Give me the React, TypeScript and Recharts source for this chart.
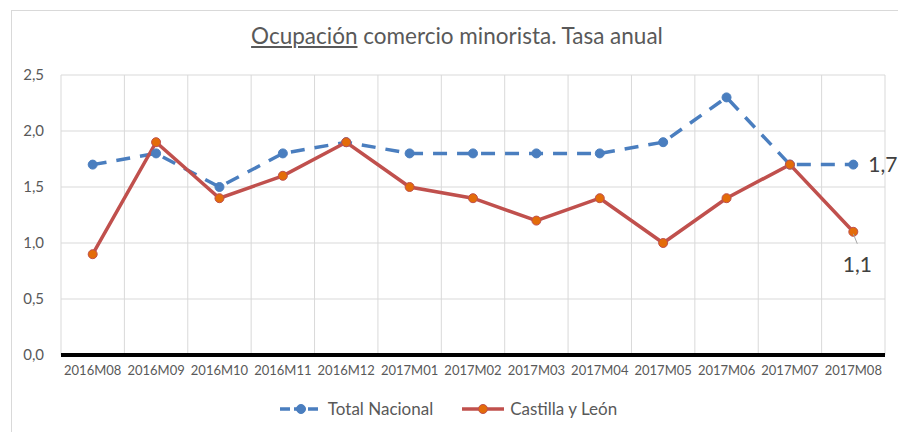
import React from 'react';
import { LineChart, Line, XAxis, YAxis, CartesianGrid, Legend, LabelList } from 'recharts';

const months = [
  '2016M08', '2016M09', '2016M10', '2016M11', '2016M12', '2017M01', '2017M02',
  '2017M03', '2017M04', '2017M05', '2017M06', '2017M07', '2017M08',
];
const totalNacional = [1.7, 1.8, 1.5, 1.8, 1.9, 1.8, 1.8, 1.8, 1.8, 1.9, 2.3, 1.7, 1.7];
const castillaLeon = [0.9, 1.9, 1.4, 1.6, 1.9, 1.5, 1.4, 1.2, 1.4, 1.0, 1.4, 1.7, 1.1];
const yTicks = [0, 0.5, 1, 1.5, 2, 2.5];
const seriesOrder = ['total', 'cyl'];

const data = months.map((m, i) => ({ month: m, total: totalNacional[i], cyl: castillaLeon[i] }));

const BLUE = '#4a7ebf';
const RED = '#c0504d';
const ORANGE = '#e36c09';
const FONT = 'Lato, "Open Sans", sans-serif';

const fmt = (v: number) => v.toFixed(1).replace('.', ',');

const lastIdx = months.length - 1;

function TotalLabel(props: any) {
  const { x, y, value, index } = props;
  if (index !== lastIdx) return null;
  return (
    <text x={x + 15} y={y} dy="0.35em" fill="#404040" fontSize={21} fontFamily={FONT}>
      {fmt(value)}
    </text>
  );
}

function CylLabel(props: any) {
  const { x, y, value, index } = props;
  if (index !== lastIdx) return null;
  return (
    <g>
      <line x1={x} y1={y + 2} x2={x + 4} y2={y + 12} stroke="#a6a6a6" strokeWidth={1} />
      <text x={x + 4} y={y + 33} dy="0.35em" textAnchor="middle" fill="#404040" fontSize={21} fontFamily={FONT}>
        {fmt(value)}
      </text>
    </g>
  );
}

function LegendContent(props: any) {
  const items = [...(props.payload || [])].sort(
    (a: any, b: any) => seriesOrder.indexOf(a.dataKey) - seriesOrder.indexOf(b.dataKey)
  );
  return (
    <div style={{ height: 47, display: 'flex', alignItems: 'center', justifyContent: 'center', gap: 28 }}>
      {items.map((p: any) => {
        const dashed = p.dataKey === 'total';
        return (
          <div key={p.dataKey} style={{ display: 'flex', alignItems: 'center' }}>
            <svg width={44} height={12} style={{ marginRight: 5 }}>
              <line x1={1} y1={6} x2={43} y2={6} stroke={p.color} strokeWidth={3.5}
                strokeDasharray={dashed ? '10 4' : undefined} />
              <circle cx={22} cy={6} r={4.5} fill={dashed ? BLUE : ORANGE} stroke={dashed ? BLUE : RED} strokeWidth={1} />
            </svg>
            <span style={{ fontFamily: FONT, fontSize: 17, color: '#595959' }}>{p.value}</span>
          </div>
        );
      })}
    </div>
  );
}

// gridlines on the category boundaries (Excel style), not on the tick centres
const boundaryLines = ({ xAxis, offset }: any) => {
  const left = offset.left;
  const w = offset.width;
  if (xAxis && typeof xAxis.scale === 'function') {
    const xs = months.map((m) => xAxis.scale(m));
    xs.push(left + w);
    return xs;
  }
  return [...months.map((_, i) => left + (i * w) / months.length), left + w];
};

export default function App() {
  return (
    <div style={{ position: 'absolute', left: 0, top: 0, width: 898, height: 432, background: '#fff', overflow: 'hidden' }}>
      <div style={{ position: 'absolute', left: 11, top: 10, width: 900, height: 440, borderLeft: '1px solid #d9d9d9', borderTop: '1px solid #d9d9d9' }} />
      <div style={{ position: 'absolute', left: 0, top: 22, width: 914, textAlign: 'center', fontFamily: FONT, fontSize: 22.5, color: '#595959' }}>
        <span style={{ textDecoration: 'underline' }}>Ocupación</span> comercio minorista. Tasa anual
      </div>
      <div style={{ position: 'absolute', left: 0, top: 0 }}>
        <LineChart width={898} height={432} data={data} margin={{ top: 75, right: 13, bottom: 0, left: 11 }}>
          <CartesianGrid stroke="#d9d9d9" strokeWidth={1} verticalCoordinatesGenerator={boundaryLines} />
          <XAxis
            dataKey="month"
            scale="band"
            height={30}
            tickLine={false}
            tickSize={0}
            tickMargin={11}
            axisLine={{ stroke: '#000', strokeWidth: 4 }}
            tick={{ fill: '#595959', fontSize: 13, fontFamily: FONT }}
            interval={0}
          />
          <YAxis
            width={50}
            domain={[0, 2.5]}
            ticks={yTicks}
            tickFormatter={fmt}
            axisLine={false}
            tickLine={false}
            tickSize={0}
            tickMargin={17}
            tick={{ fill: '#595959', fontSize: 15, fontFamily: FONT }}
          />
          <Legend verticalAlign="bottom" content={<LegendContent />} />
          <Line
            type="linear"
            dataKey="total"
            name="Total Nacional"
            stroke={BLUE}
            strokeWidth={3.5}
            strokeDasharray="14 10"
            dot={{ r: 4.5, fill: BLUE, stroke: BLUE, strokeWidth: 1, strokeDasharray: '' }}
            isAnimationActive={false}
          >
            <LabelList dataKey="total" content={<TotalLabel />} />
          </Line>
          <Line
            type="linear"
            dataKey="cyl"
            name="Castilla y León"
            stroke={RED}
            strokeWidth={3.5}
            dot={{ r: 4.5, fill: ORANGE, stroke: RED, strokeWidth: 1 }}
            isAnimationActive={false}
          >
            <LabelList dataKey="cyl" content={<CylLabel />} />
          </Line>
        </LineChart>
      </div>
    </div>
  );
}
